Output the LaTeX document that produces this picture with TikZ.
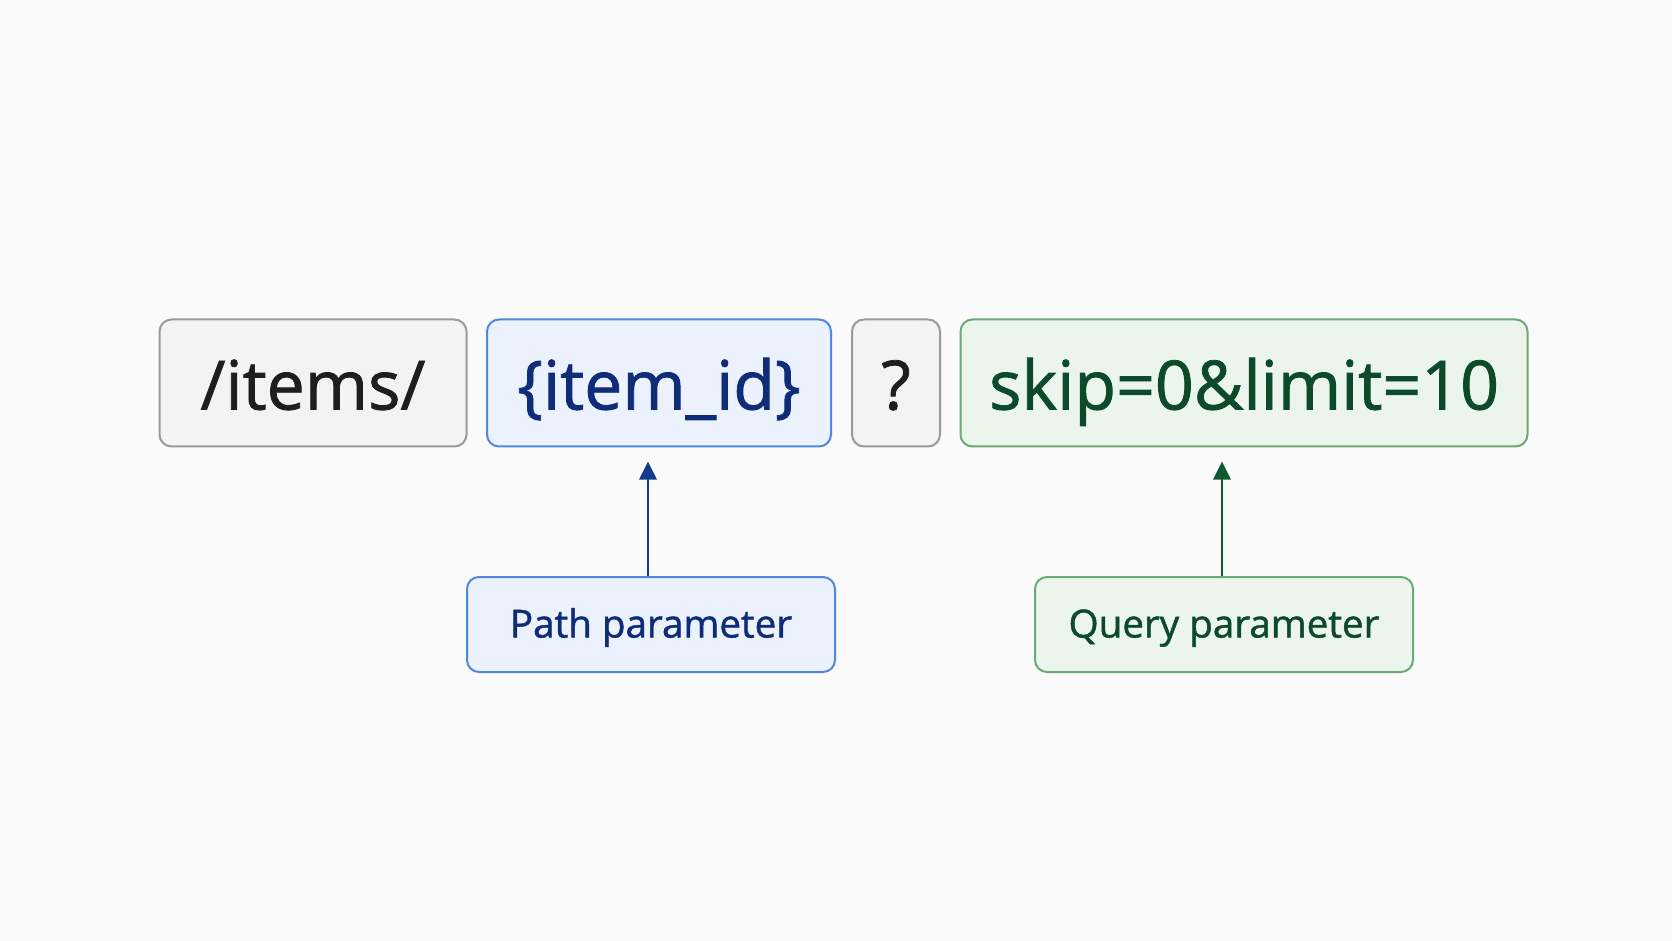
\documentclass[tikz,border=0pt]{standalone}
\usepackage{fontspec}
\setmainfont{Open Sans}
\newfontfamily\medfont{Open Sans}[FakeBold=1.2]
\usetikzlibrary{arrows.meta}
\definecolor{bg}{HTML}{FAFAFA}
\definecolor{greyfill}{HTML}{F3F3F3}
\definecolor{greyline}{HTML}{9A9A9A}
\definecolor{greytext}{HTML}{1E1E1E}
\definecolor{bluefill}{HTML}{EBF2FD}
\definecolor{blueline}{HTML}{4F88DE}
\definecolor{bluetext}{HTML}{0F2C78}
\definecolor{greenfill}{HTML}{EBF5EC}
\definecolor{greenline}{HTML}{6AAA78}
\definecolor{greentext}{HTML}{0C4A2A}
\definecolor{bluearrow}{HTML}{143A8C}
\definecolor{greenarrow}{HTML}{0F5A32}
\tikzset{
  seg/.style={draw, line width=1pt, rounded corners=6pt, minimum height=63.5pt, inner sep=0pt, text height=28pt, text depth=1.5pt, font=\medfont\fontsize{34}{38}\selectfont},
  greyseg/.style={seg, fill=greyfill, draw=greyline, text=greytext},
  blueseg/.style={seg, fill=bluefill, draw=blueline, text=bluetext},
  greenseg/.style={seg, fill=greenfill, draw=greenline, text=greentext},
  lbl/.style={draw, line width=1pt, rounded corners=6pt, minimum height=47.5pt, inner sep=0pt, text height=14pt, text depth=1pt, font=\medfont\fontsize{19.3}{23}\selectfont},
  bluelbl/.style={lbl, fill=bluefill, draw=blueline, text=bluetext},
  greenlbl/.style={lbl, fill=greenfill, draw=greenline, text=greentext},
  pointer/.style={line width=1.4pt, -{Triangle[length=9pt,width=8.5pt]}, shorten >=7pt}
}
\begin{document}
\begin{tikzpicture}[x=0.5pt,y=-0.5pt]
\fill[bg] (0,0) rectangle (1672,941);
\useasboundingbox (0,0) rectangle (1672,941);
\node[greyseg, minimum width=153.5pt] (items) at (313,383) {/items/};
\node[blueseg, minimum width=172pt] (itemid) at (659,383) {\{item\_id\}};
\node[greyseg, minimum width=44pt] (qmark) at (896,383) {?};
\node[greenseg, minimum width=283.5pt] (query) at (1244,383) {skip=0\&limit=10};
\node[bluelbl, minimum width=184pt] (pathlbl) at (651,624.5) {Path parameter};
\node[greenlbl, minimum width=189pt] (querylbl) at (1224,624.5) {Query parameter};
\draw[pointer, draw=bluearrow, fill=bluearrow] ([xshift=-1.5pt]pathlbl.north) -- ([xshift=-1.5pt]pathlbl.north |- itemid.south);
\draw[pointer, draw=greenarrow, fill=greenarrow] ([xshift=-1pt]querylbl.north) -- ([xshift=-1pt]querylbl.north |- query.south);
\end{tikzpicture}
\end{document}
